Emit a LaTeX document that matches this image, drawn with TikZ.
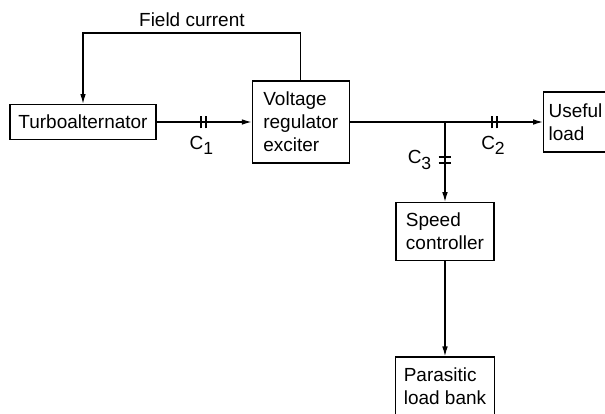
\documentclass[tikz,border=0pt]{standalone}
\usepackage{fontspec}
\setmainfont{Liberation Sans}
\usetikzlibrary{%
	arrows.meta,%
	positioning,%
	calc,%
}
\tikzset{
	>={Latex[length=7pt,width=4pt]},%
	blockbox/.style={%
			draw,%
			rectangle,%
			line width=0.9pt,%
			align=left,%
			inner xsep=0.2cm},%
	wire/.style={%
			line width=0.9pt},%
	capbar/.style={%
			line width=1.4pt},%
}
\newcommand{\capname}[1]{C\raisebox{-0.55ex}{\fontsize{12.5}{12.5}\selectfont #1}}
\newcommand{\capbarsH}[1]{%
	\draw[capbar] ([shift={(-1.8pt,-4.6pt)}]#1) -- ([shift={(-1.8pt,4.6pt)}]#1)
	([shift={(1.8pt,-4.6pt)}]#1) -- ([shift={(1.8pt,4.6pt)}]#1);}
\newcommand{\capbarsV}[1]{%
	\draw[capbar] ([shift={(-4.6pt,-1.8pt)}]#1) -- ([shift={(4.6pt,-1.8pt)}]#1)
	([shift={(-4.6pt,1.8pt)}]#1) -- ([shift={(4.6pt,1.8pt)}]#1);}

\begin{document}
\begin{tikzpicture}[x=0.025cm, y=-0.025cm, nodes={font={\fontsize{13.5}{16.3}\selectfont}}]%
	\clip (0,0) rectangle (605,414);

	\node[blockbox, minimum width=3.65cm, minimum height=0.875cm] (turbo) at (83,122) {Turboalternator};

	\node[blockbox, minimum width=2.425cm, minimum height=2.05cm] (vr) [right=2.375cm of turbo] {Voltage\\regulator\\exciter};

	\coordinate[right=2.375cm of vr] (jct);

	\node[blockbox, minimum width=1.7cm, minimum height=1.5cm, inner xsep=0.1cm, text width=1.45cm] (useful) [right=2.45cm of jct] {Useful\\load};

	\node[blockbox, minimum width=2.45cm, minimum height=1.45cm] (speed) [below=2cm of jct] {Speed\\controller};

	\node[blockbox, minimum width=2.425cm, minimum height=1.45cm] (parasitic) [below=2.375cm of speed] {Parasitic\\load bank};

	\coordinate (fbcorner) at (83,33);

	\draw[wire, ->] (vr.north) |- node[pos=0.75, above=1pt] {Field current} (fbcorner) -- (turbo);
	\draw[wire, ->] (turbo) -- coordinate[pos=0.495] (c1) node[pos=0.47, below=6pt] {\capname{1}} (vr);
	\draw[wire] (vr) -- (jct);
	\draw[wire, ->] (jct) -- coordinate[pos=0.505] (c2) node[pos=0.49, below=6pt] {\capname{2}} (useful);
	\draw[wire, ->] (jct) -- coordinate[pos=0.475] (c3) node[pos=0.475, left=6pt] {\capname{3}} (speed);
	\draw[wire, ->] (speed) -- (parasitic);

	% capacitor marks
	\capbarsH{c1}
	\capbarsH{c2}
	\capbarsV{c3}
\end{tikzpicture}
\end{document}
